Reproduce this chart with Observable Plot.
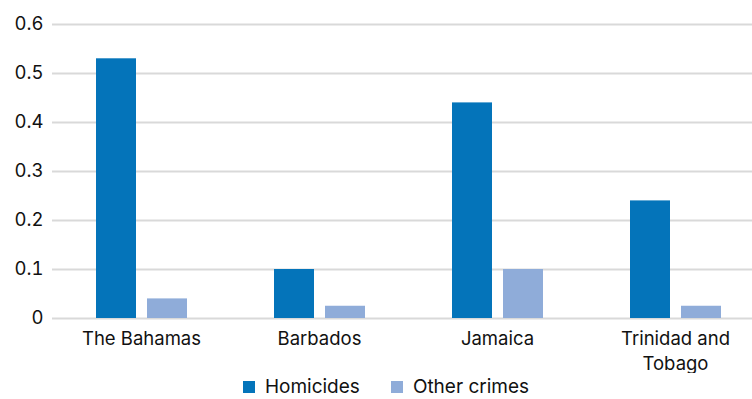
<!DOCTYPE html>
<html>
<head>
<meta charset="utf-8">
<script src="https://cdn.jsdelivr.net/npm/d3@7"></script>
<script src="https://cdn.jsdelivr.net/npm/@observablehq/plot@0.6"></script>
<style>
  html, body { margin: 0; padding: 0; background: #fff; overflow: hidden; }
  #wrap { width: 752px; overflow: hidden; font-family: Inter, sans-serif; }
  #chart svg { max-width: none !important; display: block; }
  #legend { display: flex; justify-content: center; align-items: center; gap: 31px; font-size: 19px; line-height: 22px; color: #111; height: 22px; margin-top: 3px; margin-left: 20px; }
  .sw { display: inline-block; width: 12px; height: 12px; margin-right: 10px; vertical-align: 0px; }
</style>
</head>
<body>
<div id="wrap">
  <div id="chart"></div>
  <div id="legend"></div>
</div>
<script>
const countries = ["The Bahamas", "Barbados", "Jamaica", "Trinidad and Tobago"];
const countryLabels = ["The Bahamas", "Barbados", "Jamaica", "Trinidad and\nTobago"];
const seriesNames = ["Homicides", "Other crimes"];
const homicides = [0.53, 0.10, 0.44, 0.24];
const otherCrimes = [0.04, 0.025, 0.10, 0.025];
const yTicks = [0, 0.1, 0.2, 0.3, 0.4, 0.5, 0.6];
const colors = ["#0474BA", "#8FACD9"];

const data = [];
countries.forEach((c, i) => {
  data.push({country: c, series: seriesNames[0], value: homicides[i]});
  data.push({country: c, series: seriesNames[1], value: otherCrimes[i]});
});
const labelOf = new Map(countries.map((c, i) => [c, countryLabels[i]]));

const chart = Plot.plot({
  width: 765,
  height: 373,
  marginLeft: 50,
  marginRight: 0,
  marginTop: 24,
  marginBottom: 55,
  style: {fontFamily: "Inter, sans-serif", fontSize: "18.5px", color: "#111", background: "#fff", maxWidth: "none"},
  fx: {domain: countries, padding: 0, label: null},
  x: {domain: seriesNames, paddingInner: 0.223, paddingOuter: 0.845, axis: null},
  y: {domain: [0, 0.6], ticks: yTicks, label: null},
  color: {domain: seriesNames, range: colors},
  marks: [
    Plot.ruleY(yTicks, {stroke: "#d9d9d9", strokeWidth: 2}),
    Plot.barY(data, {fx: "country", x: "series", y: "value", fill: "series"}),
    Plot.axisY({ticks: yTicks, tickSize: 0, tickPadding: 9, tickFormat: d => d === 0 ? "0" : d3.format(".1f")(d), fontSize: 18.5, label: null}),
    Plot.axisFx({anchor: "bottom", tickSize: 0, tickPadding: 9, tickFormat: d => labelOf.get(d), fontSize: 18.5, lineHeight: 1.35, label: null})
  ]
});
document.getElementById("chart").appendChild(chart);

const legend = document.getElementById("legend");
seriesNames.forEach((s, i) => {
  const item = document.createElement("span");
  const sw = document.createElement("span");
  sw.className = "sw";
  sw.style.background = colors[i];
  item.appendChild(sw);
  item.appendChild(document.createTextNode(s));
  legend.appendChild(item);
});
</script>
</body>
</html>
